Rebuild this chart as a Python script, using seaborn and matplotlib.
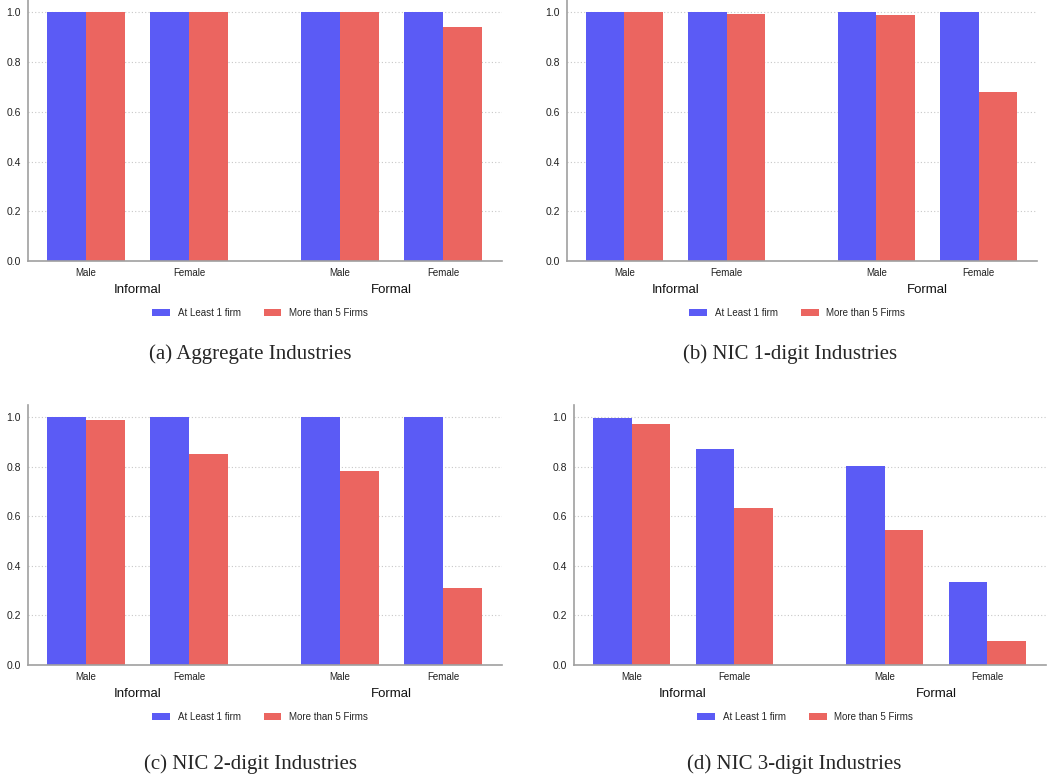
import pandas as pd
import matplotlib.pyplot as plt
import matplotlib.transforms as mtransforms
import seaborn as sns

# values
sexes = ["Male", "Female", "Male", "Female"]
sectors = ["Informal", "Informal", "Formal", "Formal"]
series_names = ["At Least 1 firm", "More than 5 Firms"]

agg_atleast1 = [1.0, 1.0, 1.0, 1.0]
agg_more5 = [1.0, 1.0, 1.0, 0.943]

nic1_atleast1 = [1.0, 1.0, 1.0, 1.0]
nic1_more5 = [1.0, 0.995, 0.988, 0.680]

nic2_atleast1 = [1.0, 1.0, 1.0, 1.0]
nic2_more5 = [0.988, 0.851, 0.785, 0.312]

nic3_atleast1 = [0.996, 0.872, 0.805, 0.337]
nic3_more5 = [0.972, 0.633, 0.545, 0.095]

captions = ["(a) Aggregate Industries", "(b) NIC 1-digit Industries",
            "(c) NIC 2-digit Industries", "(d) NIC 3-digit Industries"]

BLUE = "#5b5bf5"
RED = "#eb6560"

sns.set_style("white")
plt.rcParams["font.family"] = ["Liberation Sans", "DejaVu Sans"]

W, H = 1056, 779
fig = plt.figure(figsize=(W / 100, H / 100), dpi=100)

# x positions of the four bar groups (gap between Informal and Formal)
group_pos = [0.0, 1.0, 2.46, 3.46]

# axes boxes in pixels: left, right, y of zero line, y of top
boxes = [(28, 502, 261, 0), (567, 1037, 261, 0),
         (28, 502, 665, 405), (574, 1046, 665, 405)]
panels = [(agg_atleast1, agg_more5), (nic1_atleast1, nic1_more5),
          (nic2_atleast1, nic2_more5), (nic3_atleast1, nic3_more5)]
caption_xy = [(250, 354), (790, 354), (251, 764), (794, 764)]

for (left, right, y0, ytop), (s1, s2), cap, (cx, cy) in zip(boxes, panels, captions, caption_xy):
    ax = fig.add_axes([left / W, 1 - y0 / H, (right - left) / W, (y0 - ytop) / H])

    df = pd.DataFrame({
        "pos": group_pos * 2,
        "value": s1 + s2,
        "series": [series_names[0]] * 4 + [series_names[1]] * 4,
    })
    sns.barplot(data=df, x="pos", y="value", hue="series", hue_order=series_names,
                palette={series_names[0]: BLUE, series_names[1]: RED},
                native_scale=True, width=0.75, saturation=1, linewidth=0,
                ax=ax)

    ax.set_xlim(-0.56, 4.03)
    ax.set_ylim(0, 1.05)
    ax.set_yticks([0, 0.2, 0.4, 0.6, 0.8, 1.0])
    ax.set_yticklabels(["0.0", "0.2", "0.4", "0.6", "0.8", "1.0"], fontsize=7.5,
                       color="#222222")
    ax.set_xticks(group_pos)
    ax.set_xticklabels(sexes, fontsize=7, color="#222222")
    ax.tick_params(axis="x", length=0, pad=5)
    ax.tick_params(axis="y", length=2, width=0.6, color="#999999", pad=3)
    ax.set_xlabel("")
    ax.set_ylabel("")

    ax.yaxis.grid(True, linestyle=(0, (1, 2)), color="#c8c8c8", linewidth=0.8)
    ax.set_axisbelow(True)
    sns.despine(ax=ax)
    for side in ["left", "bottom"]:
        ax.spines[side].set_color("#a0a0a0")
        ax.spines[side].set_linewidth(1.2)

    trans = mtransforms.blended_transform_factory(ax.transData, ax.transAxes)
    height_px = y0 - ytop
    ylab = -29 / height_px
    ax.text((group_pos[0] + group_pos[1]) / 2, ylab, sectors[0], transform=trans,
            ha="center", va="center", fontsize=9.5, color="#111111")
    ax.text((group_pos[2] + group_pos[3]) / 2, ylab, sectors[2], transform=trans,
            ha="center", va="center", fontsize=9.5, color="#111111")

    sns.move_legend(ax, "center", bbox_to_anchor=(0.49, -52 / height_px), ncol=2,
                    frameon=False, title=None, fontsize=7, handlelength=1.8,
                    handleheight=0.7, columnspacing=2.4, handletextpad=0.8)

    fig.text(cx / W, 1 - cy / H, cap, ha="center", va="center", fontsize=15,
             family=["Liberation Serif", "DejaVu Serif"])

fig.savefig("out.png", dpi=100, facecolor="white")
